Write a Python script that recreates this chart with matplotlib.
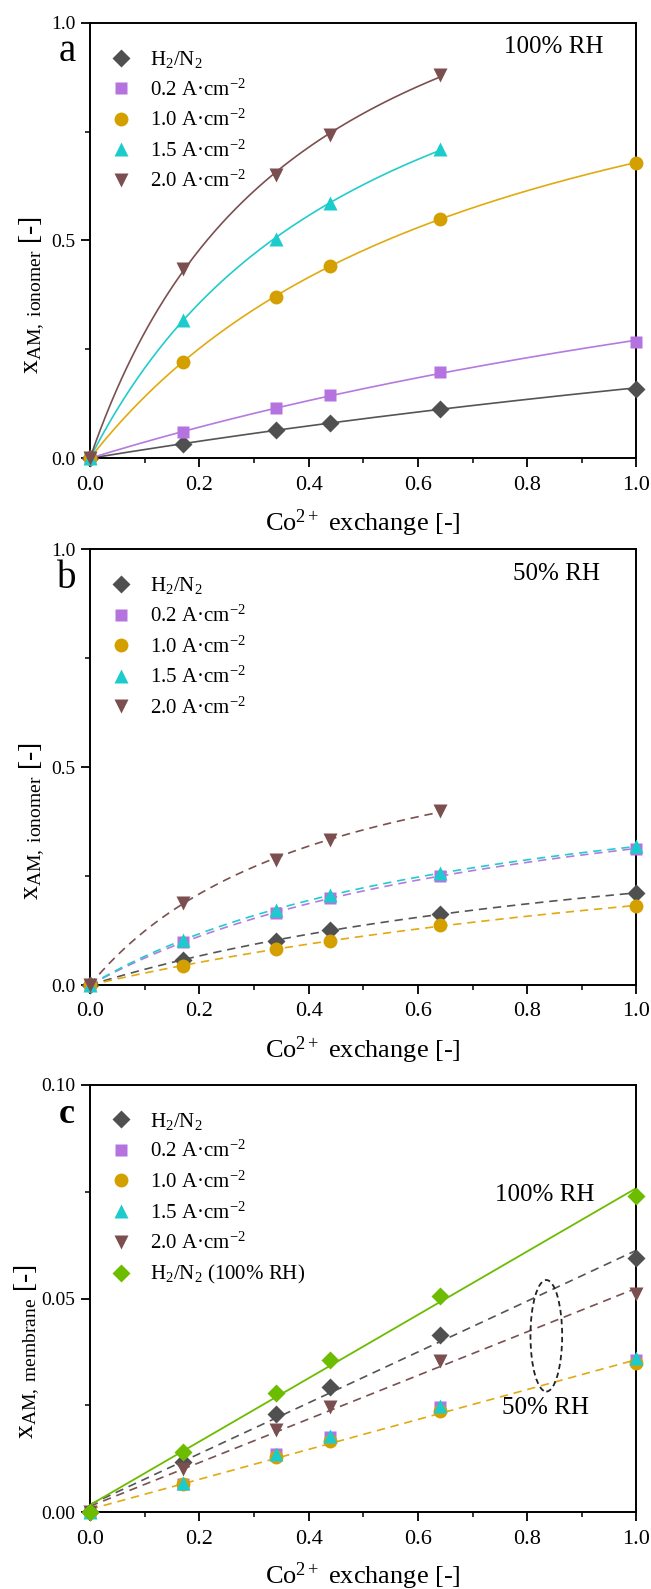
import numpy as np
import matplotlib.pyplot as plt
from matplotlib.patches import Ellipse
from matplotlib.ticker import MultipleLocator

plt.rcParams['font.family'] = 'Liberation Serif'
plt.rcParams['mathtext.fontset'] = 'custom'
plt.rcParams['mathtext.rm'] = 'Liberation Serif'
plt.rcParams['mathtext.it'] = 'Liberation Serif:italic'

# Co2+ exchange
x_all = [0, 0.17, 0.34, 0.44, 0.64, 1.0]

labels = ["H$_2$/N$_2$", "0.2 A·cm$^{-2}$", "1.0 A·cm$^{-2}$",
          "1.5 A·cm$^{-2}$", "2.0 A·cm$^{-2}$"]
label_100 = "H$_2$/N$_2$ (100% RH)"

# a: 100% RH, ionomer
a_h2n2 = [0, 0.033, 0.064, 0.082, 0.114, 0.160]
a_02 = [0, 0.060, 0.115, 0.146, 0.199, 0.267]
a_10 = [0, 0.222, 0.371, 0.441, 0.550, 0.679]
a_15 = [0, 0.318, 0.504, 0.585, 0.709]
a_20 = [0, 0.434, 0.651, 0.742, 0.880]

# b: 50% RH, ionomer
b_h2n2 = [0, 0.058, 0.102, 0.126, 0.163, 0.211]
b_02 = [0, 0.098, 0.166, 0.199, 0.251, 0.313]
b_10 = [0, 0.044, 0.083, 0.102, 0.137, 0.181]
b_15 = [0, 0.104, 0.172, 0.207, 0.257, 0.318]
b_20 = [0, 0.189, 0.288, 0.333, 0.399]

# c: membrane
c_h2n2 = [0, 0.0117, 0.0230, 0.0293, 0.0415, 0.0594]
c_02 = [0, 0.0067, 0.0137, 0.0176, 0.0247, 0.0356]
c_10 = [0, 0.0066, 0.0130, 0.0166, 0.0237, 0.0350]
c_15 = [0, 0.0069, 0.0137, 0.0178, 0.0249, 0.0360]
c_20 = [0, 0.0102, 0.0193, 0.0247, 0.0354, 0.0510]
c_h2n2_100 = [0, 0.0141, 0.0278, 0.0357, 0.0506, 0.0741]

colors = ['#505050', '#b573e0', '#d4a000', '#1ccccc', '#7b4f4f']
line_colors = ['#555555', '#b57ae0', '#e0aa10', '#22cccc', '#7b5050']
green = '#6cbc00'
markers = ['D', 's', 'o', '^', 'v']
msizes = [9, 8, 10, 10, 10]


def langmuir(x, y):
    x = np.array(x[1:])
    y = np.array(y[1:])
    p = np.polyfit(x, x / y, 1)
    xs = np.linspace(0, x.max(), 200)
    return xs, xs / (p[1] + p[0] * xs)


def style(ax, ymax, ylabel, yfmt, ylx):
    ax.set_xlim(0, 1)
    ax.set_ylim(0, ymax)
    ax.xaxis.set_major_locator(MultipleLocator(0.2))
    ax.xaxis.set_minor_locator(MultipleLocator(0.1))
    ax.yaxis.set_major_locator(MultipleLocator(ymax / 2))
    ax.yaxis.set_minor_locator(MultipleLocator(ymax / 4))
    ax.yaxis.set_major_formatter(plt.FormatStrFormatter(yfmt))
    ax.xaxis.set_major_formatter(plt.FormatStrFormatter('%.1f'))
    ax.tick_params(which='major', length=6.5, width=1.3, direction='out')
    ax.tick_params(which='minor', length=3.5, width=1.1, direction='out')
    ax.tick_params(axis='x', labelsize=16, pad=6)
    ax.tick_params(axis='y', labelsize=14, pad=4)
    for s in ax.spines.values():
        s.set_linewidth(1.4)
    ax.set_xlabel("Co$^{2+}$ exchange [-]", fontsize=19)
    ax.xaxis.set_label_coords(0.5, -0.15)
    ax.xaxis.label.set_va('center')
    ax.set_ylabel(ylabel, fontsize=20)
    ax.yaxis.set_label_coords(ylx, 0.375)
    ax.yaxis.label.set_va('center')


fig = plt.figure(figsize=(6.51, 15.89), dpi=100)
ax_a = fig.add_axes([0.1382, 0.7116, 0.8395, 0.2741])
ax_b = fig.add_axes([0.1382, 0.3801, 0.8395, 0.2742])
ax_c = fig.add_axes([0.1382, 0.0483, 0.8395, 0.2689])

# panel a
for i, ys in enumerate([a_h2n2, a_02, a_10, a_15, a_20]):
    xs = x_all[:len(ys)]
    fx, fy = langmuir(xs, ys)
    ax_a.plot(fx, fy, color=line_colors[i], lw=1.2, zorder=2)
for i, ys in enumerate([a_h2n2, a_02, a_10, a_15, a_20]):
    xs = x_all[:len(ys)]
    ax_a.plot(xs, ys, ls='none', marker=markers[i], ms=msizes[i], color=colors[i],
              mec='none', label=labels[i], clip_on=False, zorder=3)
style(ax_a, 1.0, r"x$_{\mathrm{AM,\ ionomer}}$ [-]", '%.1f', -0.105)
ax_a.text(0.849, 0.9435, "100% RH", transform=ax_a.transAxes, fontsize=18,
          ha='center', va='center')
ax_a.text(-0.042, 0.935, "a", transform=ax_a.transAxes, fontsize=28,
          ha='center', va='center')

# panel b
for i, ys in enumerate([b_h2n2, b_02, b_10, b_15, b_20]):
    xs = x_all[:len(ys)]
    fx, fy = langmuir(xs, ys)
    ax_b.plot(fx, fy, color=line_colors[i], lw=1.2, ls=(0, (5, 3.5)), zorder=2)
for i, ys in enumerate([b_h2n2, b_02, b_10, b_15, b_20]):
    xs = x_all[:len(ys)]
    ax_b.plot(xs, ys, ls='none', marker=markers[i], ms=msizes[i], color=colors[i],
              mec='none', label=labels[i], clip_on=False, zorder=3)
style(ax_b, 1.0, r"x$_{\mathrm{AM,\ ionomer}}$ [-]", '%.1f', -0.105)
ax_b.text(0.853, 0.943, "50% RH", transform=ax_b.transAxes, fontsize=18,
          ha='center', va='center')
ax_b.text(-0.042, 0.932, "b", transform=ax_b.transAxes, fontsize=28,
          ha='center', va='center')

# panel c
xfit = np.linspace(0, 1, 50)
for i, ys in [(0, c_h2n2), (4, c_20), (2, c_10)]:
    p = np.polyfit(x_all, ys, 1)
    ax_c.plot(xfit, np.polyval(p, xfit), color=line_colors[i], lw=1.2,
              ls=(0, (5, 3.5)), zorder=2)
p = np.polyfit(x_all, c_h2n2_100, 1)
ax_c.plot(xfit, np.polyval(p, xfit), color=green, lw=1.3, zorder=2)
for i, ys in enumerate([c_h2n2, c_02, c_10, c_15, c_20]):
    ax_c.plot(x_all, ys, ls='none', marker=markers[i], ms=msizes[i], color=colors[i],
              mec='none', label=labels[i], clip_on=False, zorder=3)
ax_c.plot(x_all, c_h2n2_100, ls='none', marker='D', ms=9, color=green, mec='none',
          label=label_100, clip_on=False, zorder=4)
style(ax_c, 0.10, r"x$_{\mathrm{AM,\ membrane}}$ [-]", '%.2f', -0.115)
ax_c.add_patch(Ellipse((0.835, 0.0413), 0.058, 0.0261, fill=False, lw=1.3,
                       ls=(0, (3, 2)), edgecolor='#222222', zorder=2))
ax_c.text(0.833, 0.0743, "100% RH", fontsize=18, ha='center', va='center')
ax_c.text(0.833, 0.0243, "50% RH", fontsize=18, ha='center', va='center')
ax_c.text(-0.042, 0.932, "c", transform=ax_c.transAxes, fontsize=26,
          fontweight='bold', ha='center', va='center')

for ax in [ax_a, ax_b, ax_c]:
    ax.legend(loc='upper left', bbox_to_anchor=(0.037, 0.94), frameon=False,
              fontsize=15, handlelength=1.0, handletextpad=0.9, labelspacing=0.45,
              borderaxespad=0, borderpad=0)

fig.savefig("out.png", dpi=100)
